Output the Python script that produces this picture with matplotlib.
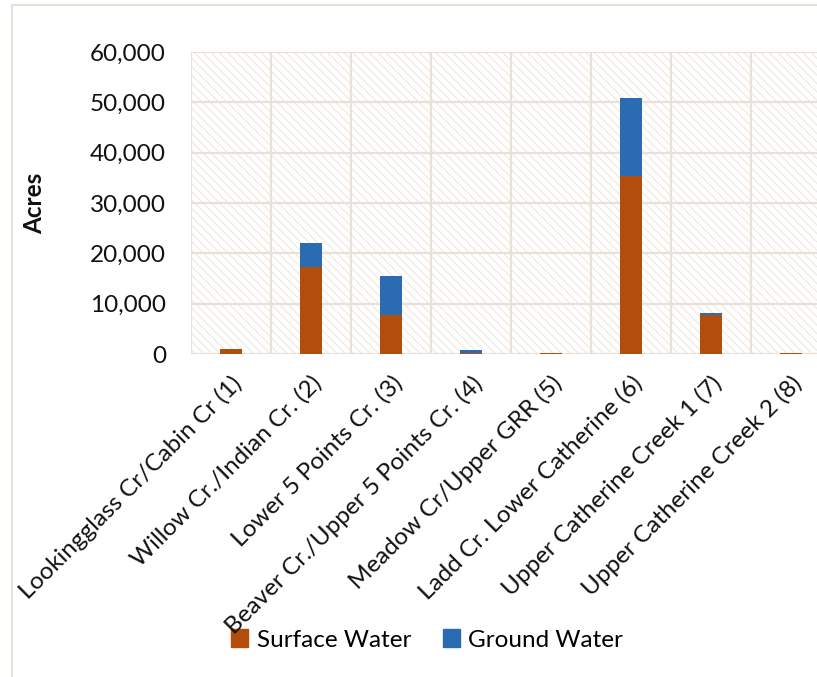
import matplotlib
matplotlib.use("Agg")
import matplotlib.pyplot as plt
from matplotlib.patches import Rectangle
from matplotlib.lines import Line2D
from matplotlib.ticker import FuncFormatter, MultipleLocator
import numpy as np

categories = [
    "Lookingglass Cr/Cabin Cr (1)",
    "Willow Cr./Indian Cr. (2)",
    "Lower 5 Points Cr. (3)",
    "Beaver Cr./Upper 5 Points Cr. (4)",
    "Meadow Cr/Upper GRR (5)",
    "Ladd Cr. Lower Catherine (6)",
    "Upper Catherine Creek 1 (7)",
    "Upper Catherine Creek 2 (8)",
]
surface_water = [1000, 17200, 7750, 100, 200, 35400, 7750, 100]
ground_water = [50, 4800, 7800, 650, 0, 15450, 300, 0]

plt.rcParams['font.family'] = ['Lato', 'DejaVu Sans']
FS = 17.5
grid_c = '#e9e1d8'
hatch_c = '#ebe5de'
orange = '#b34d0e'
blue = '#2a6bb1'

fig = plt.figure(figsize=(8.17, 6.77), dpi=100)
W, H = 817, 677
ax = fig.add_axes([191 / W, 1 - 354 / H, (831 - 191) / W, (354 - 52) / H])

x = np.arange(len(categories))
ax.set_xlim(-0.5, len(categories) - 0.5)
ax.set_ylim(0, 60000)

# hatched background
plt.rcParams['hatch.color'] = hatch_c
plt.rcParams['hatch.linewidth'] = 0.7
bg = Rectangle((0, 0), 1, 1, transform=ax.transAxes, facecolor='white',
               edgecolor=hatch_c, hatch='\\\\\\\\', linewidth=0, zorder=0)
ax.add_patch(bg)

# gridlines
for yv in range(0, 60001, 10000):
    ax.axhline(yv, color=grid_c, lw=1.6, zorder=1)
for xv in np.arange(-0.5, len(categories), 1.0):
    ax.axvline(xv, color=grid_c, lw=1.6, zorder=1)

bw = 0.27
ax.bar(x, surface_water, bw, color=orange, zorder=3, label='Surface Water')
ax.bar(x, ground_water, bw, bottom=surface_water, color=blue, zorder=3, label='Ground Water')

for s in ax.spines.values():
    s.set_visible(False)

ax.yaxis.set_major_locator(MultipleLocator(10000))
ax.yaxis.set_major_formatter(FuncFormatter(lambda v, p: f"{int(v):,}"))
ax.tick_params(axis='y', length=0, pad=18, labelsize=FS, colors='#111111')
ax.set_xticks(x)
ax.set_xticklabels(categories, rotation=45, ha='right', rotation_mode='anchor', fontsize=FS)
ax.tick_params(axis='x', length=0, pad=13, colors='#111111')

fig.text(35 / W, 1 - 203 / H, 'Acres', rotation=90, ha='center', va='center',
         fontsize=FS, fontweight='bold', color='#111111')

handles = [Rectangle((0, 0), 1, 1, color=orange), Rectangle((0, 0), 1, 1, color=blue)]
leg = fig.legend(handles, ['Surface Water', 'Ground Water'], ncol=2, frameon=False,
                 loc='center', bbox_to_anchor=(427 / W, 1 - 640 / H), fontsize=FS,
                 handlelength=0.7, handleheight=0.7, handletextpad=0.35, columnspacing=1.3)
leg.set_zorder(-1)

# chart frame
fig.add_artist(Line2D([12 / W, 12 / W], [0, 1 - 5 / H], color=grid_c, lw=1.5))
fig.add_artist(Line2D([12 / W, 1], [1 - 5 / H, 1 - 5 / H], color=grid_c, lw=1.5))

fig.savefig('out.png', dpi=100)
